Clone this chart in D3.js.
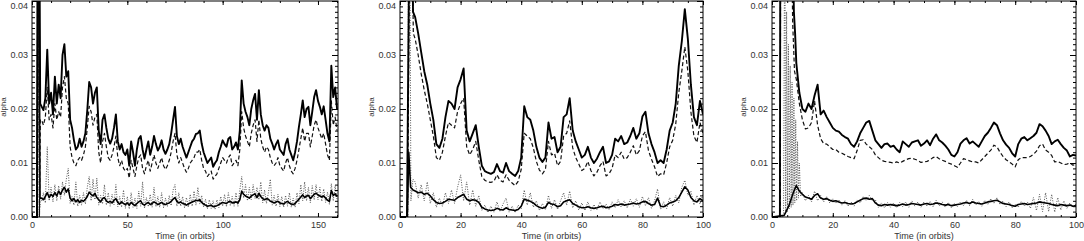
<!DOCTYPE html>
<html>
<head>
<meta charset="utf-8">
<script src="https://cdn.jsdelivr.net/npm/d3@7"></script>
<style>
   body { margin: 0; background: #fff; }
   svg { display: block; }
   text { font-family: "Liberation Sans", Arial, sans-serif; fill: #333; }
</style>
</head>
<body>
<svg id="chart" width="1084" height="241"></svg>
<script>
"use strict";

// alpha values, in units of 1e-3, one value per orbit from the start orbit
// "Rise" arrays hold the [orbit, value] points of the start-up transient

// ---- run 1 (0 - 160 orbits) ----
const p1Start = 5;
const p1SolidRise = [[0, 0], [2.6, 0], [3.0, 60], [3.8, 60], [4.3, 21]];
const p1Solid = [
   20.5, 19.8, 22, 31, 21, 23, 19, 26, 21, 24.5,
   22, 30, 32, 26, 27, 18, 16.5, 14.2, 12.5, 13,
   14.5, 13, 14, 15.5, 19.8, 25, 24, 21, 23, 24,
   16, 13.5, 18, 19, 16.5, 14.5, 13.6, 14.5, 16.5, 19,
   14, 12.5, 13.5, 12, 11.5, 12.5, 9.5, 14, 12, 9.5,
   12.5, 14.5, 15, 12.5, 10.8, 12.5, 14, 11.5, 13, 15,
   13.5, 12.3, 13, 14.2, 12.5, 11.7, 12.5, 13.5, 15.5, 18,
   20.4, 15, 13.5, 14.5, 13, 12, 11, 12, 13, 14,
   14.5, 15.4, 15.5, 16, 13.6, 12, 11, 10, 10.5, 11,
   9.3, 10, 10.5, 12, 13, 14.2, 13.5, 13, 14.5, 14.8,
   12.5, 13, 13.8, 12.5, 16, 25.3, 21, 19.5, 18.5, 17,
   20, 21.6, 22.8, 18, 23.5, 19, 17, 16, 17, 16.5,
   14.5, 13.6, 12.5, 13.5, 14.2, 12.5, 12, 11.5, 13.5, 14.5,
   12.5, 11.5, 10.5, 12, 14, 16.7, 19, 21.6, 18.5, 20,
   20.4, 17, 19.5, 22.2, 23.5, 21.5, 20.4, 19, 20.5, 18,
   15.4, 14, 28, 22.2, 24, 20
];
const p1DashedRise = [[0, 0], [2.8, 0], [3.2, 60], [3.6, 60], [3.9, 0], [4.4, 18]];
const p1Dashed = [
   18, 17, 18.5, 24, 18, 19, 16.5, 21, 18, 19.5,
   18.5, 24, 26, 22, 21, 13, 11, 10, 9.5, 10.5,
   11, 10.5, 11.5, 13, 16.5, 20.5, 19.5, 17, 18.5, 19,
   12, 10, 14, 15.5, 13, 11, 10.5, 11.5, 13, 15,
   11, 9.5, 10.5, 9, 8.5, 9, 7.2, 10.5, 9, 7.5,
   9.5, 11, 11.5, 9, 8, 9.5, 10.5, 8.5, 10, 11.5,
   10, 9, 10, 11, 9.5, 8.8, 9.5, 10.5, 12, 14,
   15.5, 11.5, 10, 11, 10, 9, 8.3, 9, 10, 10.5,
   11, 12, 12, 12.5, 10.5, 9, 8.5, 7.5, 8, 8.5,
   7, 7.5, 8, 9, 10, 11, 10.5, 10, 11, 11.5,
   9.5, 10, 10.5, 9.5, 12.5, 19.5, 16.5, 15, 14, 13,
   15.5, 17, 18, 14, 18, 14.5, 13, 12, 13, 12.5,
   11, 10, 9.5, 10, 11, 9.5, 9, 8.5, 10, 11,
   9.5, 8.5, 8, 9, 10.5, 12.5, 14.5, 16.5, 14, 15.5,
   15.5, 13, 15, 17, 18, 16.5, 15.5, 14.5, 15.5, 13.5,
   11.5, 10.5, 21.5, 17, 18.5, 16
];
const p1LowSolidRise = [[0, 0], [2.7, 0], [3.1, 60], [3.5, 60], [4.2, 3.5]];
const p1LowSolid = [
   3.5, 3.2, 3.8, 4.5, 3.6, 4.2, 3.8, 4.5, 3.9, 4.8,
   4.2, 5, 5.5, 4.6, 5.2, 3.5, 3, 3.4, 2.8, 3.2,
   2.7, 3.1, 2.9, 3.3, 3.8, 4.6, 4.2, 3.9, 4.4, 3.6,
   3.2, 2.8, 3.4, 3.6, 3, 2.7, 2.9, 2.6, 3.1, 3.4,
   2.7, 2.4, 2.8, 2.5, 2.3, 2.6, 2.2, 2.7, 2.4, 2.1,
   2.5, 2.8, 3, 2.4, 2.2, 2.5, 2.7, 2.3, 2.5, 2.8,
   2.6, 2.3, 2.5, 2.7, 2.4, 2.3, 2.5, 2.6, 2.9, 3.3,
   3.6, 2.9, 2.6, 2.8, 2.5, 2.4, 2.2, 2.4, 2.6, 2.8,
   2.9, 3.1, 3, 3.2, 2.7, 2.4, 2.2, 2, 2.1, 2.2,
   1.9, 2, 2.1, 2.3, 2.5, 2.7, 2.6, 2.5, 2.8, 2.9,
   2.6, 2.7, 2.8, 2.6, 3.2, 4.8, 4.2, 3.9, 3.7, 3.5,
   3.9, 4.1, 4.3, 3.6, 4.4, 3.8, 3.4, 3.2, 3.4, 3.3,
   2.9, 2.8, 2.6, 2.8, 2.9, 2.6, 2.5, 2.4, 2.7, 2.9,
   2.6, 2.4, 2.3, 2.5, 2.9, 3.3, 3.7, 4.1, 3.6, 3.9,
   4, 3.4, 3.8, 4.2, 4.4, 4.1, 3.9, 3.7, 3.9, 3.5,
   3.1, 2.9, 4.9, 4, 4.3, 3.8
];
const p1LowDottedRise = [[0, 0], [3.0, 0], [3.4, 50], [3.8, 0.5], [4.4, 2.8]];
const p1LowDotted = [
   2.8, 4.5, 2.6, 13, 3, 5.5, 2.8, 6, 3, 5.8,
   3.3, 6.5, 4, 7, 9, 2.5, 3.8, 2.2, 6.5, 2,
   4, 2.2, 4.5, 2.4, 5.5, 7.5, 3, 7, 3.2, 7.2,
   2.2, 4, 2.4, 6, 2.2, 4.5, 2, 4.2, 2.3, 6,
   1.9, 3.8, 1.8, 5, 1.6, 3.8, 1.5, 4.5, 1.8, 3.5,
   1.6, 4.8, 2, 6.5, 1.6, 3.6, 1.9, 4.2, 1.8, 5.5,
   1.9, 3.8, 1.8, 4.5, 1.7, 3.5, 1.9, 4, 2.1, 5,
   6, 2, 4.5, 2, 3.8, 1.7, 3.6, 1.8, 4.2, 2,
   4.8, 2.2, 5.5, 2.4, 4, 1.8, 3.3, 1.5, 3.2, 1.6,
   3, 1.4, 3.2, 1.7, 3.8, 2, 4.2, 1.9, 4.5, 2.1,
   3.8, 2, 4.5, 2, 5, 7.5, 3.5, 6, 3, 5.5,
   3.2, 6, 3.4, 5.5, 3.2, 6.5, 2.6, 5, 2.5, 4.5,
   7, 2.2, 4, 2, 4.2, 1.9, 3.8, 1.8, 4, 2,
   4.5, 1.8, 3.5, 1.8, 4.5, 2.5, 6, 3, 6.5, 3,
   5.5, 2.6, 5.8, 3.2, 6, 3.2, 5.5, 2.9, 5.2, 2.7,
   4.6, 2.3, 6.2, 3, 5.8, 3.2
];

// ---- run 2 (0 - 100 orbits) ----
const p2Start = 5;
const p2SolidRise = [[0, 0], [2.3, 0], [3.2, 60], [3.8, 60], [4.3, 38]];
const p2Solid = [
   37, 34, 30.5, 27, 24.5, 21, 18, 13.5, 12.8, 14.5,
   18.5, 21.5, 21, 20, 24, 25.5, 27.5, 16, 14, 15.5,
   17, 13, 9.5, 8.5, 8.2, 8, 8.3, 9.8, 8.5, 8.2,
   10, 8.5, 8, 7.6, 8.5, 11, 20.5, 18.5, 18, 16,
   13, 11, 10.2, 11, 17.5, 14.5, 14.8, 12, 13, 18.5,
   19, 22, 16, 14, 12.5, 11, 11.5, 13, 11, 10,
   10.8, 12, 13, 10, 10.3, 11.5, 14.5, 14, 15, 13.5,
   13.8, 15, 16.5, 14.5, 15.5, 18.6, 19.5, 15.5, 13.5, 12,
   10, 10.5, 10, 12.5, 16, 17.5, 21, 28, 32.5, 38.5,
   33, 24.5, 18.5, 17, 21.5, 19
];
const p2DashedRise = [[0, 0], [2.5, 0], [3.3, 60], [3.8, 60], [4.4, 34]];
const p2Dashed = [
   33, 30, 26.5, 23.5, 21, 18, 15, 11, 10.5, 12,
   15, 17.5, 17, 16.5, 19.5, 21, 22, 13, 11.5, 12.5,
   14, 10.5, 7.5, 6.8, 6.5, 6.4, 6.6, 7.8, 6.8, 6.5,
   7.8, 6.8, 6.3, 5.8, 6.6, 8.8, 15.5, 15, 14.5, 12.8,
   10.3, 8.7, 8, 8.8, 14, 11.5, 11.8, 9.5, 10.3, 15,
   15.5, 17.8, 12.8, 11, 9.8, 8.6, 9, 10.3, 8.6, 7.6,
   8.3, 9.5, 10.3, 7.6, 8, 9, 11.5, 11, 12, 10.7,
   11, 12, 13.2, 11.5, 12.3, 15, 15.8, 12.3, 10.7, 9.3,
   7.5, 8, 7.8, 10, 13, 14.2, 17.2, 23, 27, 31.5,
   27, 19.5, 15, 13.8, 17.5, 15.5
];
const p2LowSolidRise = [[0, 0], [2.4, 0], [2.9, 12], [3.5, 5.5], [4.3, 5]];
const p2LowSolid = [
   4.8, 4.5, 4.6, 4.2, 4.4, 3.9, 3.2, 2.7, 2.5, 2.6,
   2.9, 3.3, 3.2, 3.1, 3.6, 3.9, 4.2, 3.3, 3, 3.2,
   3.1, 2.7, 1.8, 1.5, 1.3, 1.2, 1.3, 1.6, 1.4, 1.3,
   1.7, 1.4, 1.3, 1.2, 1.4, 2, 3.3, 3.1, 2.9, 2.6,
   2.1, 1.8, 1.6, 1.8, 2.7, 2.4, 2.3, 1.9, 2.1, 2.8,
   3, 3.2, 2.5, 2.2, 1.9, 1.7, 1.7, 1.9, 1.7, 1.6,
   1.7, 1.9, 2, 1.7, 1.8, 2, 2.3, 2.2, 2.4, 2.2,
   2.3, 2.4, 2.6, 2.4, 2.5, 2.8, 2.9, 2.5, 2.2, 2.3,
   3.5, 2, 1.9, 2.2, 2.6, 2.8, 3, 3.6, 4.6, 5.6,
   5, 3.6, 3, 2.8, 3.4, 3
];
const p2LowDottedRise = [[0, 0], [2.6, 0], [2.8, 60], [3.2, 60], [3.6, 3], [4.3, 7]];
const p2LowDotted = [
   6.5, 3.5, 6, 3, 6.5, 2.5, 4.5, 1.8, 3.5, 2,
   4.5, 2.5, 5, 2.5, 5.5, 7.8, 3, 6.5, 2.2, 5,
   2, 4, 1.2, 2.2, 0.8, 2, 0.9, 2.8, 1, 2.4,
   3.5, 0.9, 2, 0.8, 2.2, 1.5, 5, 2.2, 4.5, 1.8,
   3, 1.2, 2.5, 1.3, 4, 1.6, 3.2, 1.4, 3, 4.5,
   2.2, 4.8, 1.7, 3, 1.3, 2.6, 1.2, 2.8, 1.2, 2.3,
   1.3, 2.8, 1.5, 2.4, 1.3, 2.8, 1.7, 3.2, 1.8, 3,
   1.7, 3.3, 2, 3.4, 1.8, 3.8, 2.1, 3.6, 1.6, 3,
   5.2, 1.4, 2.8, 1.5, 3.6, 2, 4, 2.6, 5.5, 6.8,
   4, 4.8, 2.2, 4, 2.4, 4.2
];

// ---- run 3 (0 - 100 orbits) ----
const p3Start = 8;
const p3SolidRise = [[0, 0], [2.6, 0], [2.75, 60], [6.6, 60], [7.2, 38], [7.6, 34]];
const p3Solid = [
   28.5, 23, 20, 19.5, 21, 20, 22.5, 24.5, 19, 19.7, 18.5,
   17.5, 16.5, 16, 15.8, 15.2, 14.8, 14.5, 13.5, 13, 14,
   15.5, 16.5, 17.5, 17.8, 16, 14.2, 13.5, 12.8, 13.5, 13.6,
   13, 13.2, 12.5, 12, 14, 13.5, 13, 13.8, 14, 14.2,
   13.2, 13.6, 14.2, 13.3, 14.5, 15.3, 14.2, 13.8, 13.2, 12.5,
   11.5, 11.2, 12, 13.6, 14.2, 14.6, 13.6, 14, 13.5, 13,
   14, 15, 15.6, 16.5, 17.5, 17, 15.5, 14.2, 13.4, 12.8,
   11.8, 11.2, 13.5, 14.5, 14.8, 14.2, 14.6, 15, 15.6, 17.2,
   16.8, 16, 15, 13.5, 14, 14.3, 13.5, 12.8, 12.3, 11.2,
   11.5, 11.4
];
const p3DashedRise = [[0, 0], [2.7, 0], [2.85, 60], [6.2, 60], [6.8, 36], [7.4, 27]];
const p3Dashed = [
   25.5, 21, 18, 16.3, 16.5, 17.5, 21.5, 17, 14.5, 13.6, 13.5,
   13, 12.5, 12.5, 12, 11.8, 11.5, 11.2, 11, 10.8, 12.3,
   14.2, 14.3, 13.5, 13, 12.5, 11.5, 11, 10.5, 10.3, 10.2,
   10.1, 10, 10.2, 10, 10.3, 10.6, 10.8, 10.9, 10.7, 10.5,
   10.1, 10.2, 10.3, 10.6, 11, 11.2, 10.8, 10.5, 10.3, 10,
   9.8, 9.5, 9.2, 10, 10.8, 10.6, 10.4, 10.2, 10.2, 10,
   10.6, 11.2, 11.8, 12.4, 13.3, 13, 12, 11.2, 10.6, 10.2,
   9.8, 9.3, 10.6, 11, 11, 11, 11.2, 11.6, 12.2, 13.2,
   13.5, 12.4, 12, 11.4, 10.2, 10.3, 10, 9.7, 9.8, 10,
   9.6, 9.7
];
const p3LowSolidRise = [[0, 0], [4, 0.3], [5.5, 2], [7, 4.5]];
const p3LowSolid = [
   5.8, 4.8, 4.2, 3.7, 3.5, 3.3, 4, 4.3, 3.5, 3.3, 3.4,
   3.1, 2.9, 3, 2.8, 2.6, 2.7, 2.5, 2.4, 2.5, 2.8,
   3.1, 3.4, 3.5, 3.3, 3.4, 2.6, 2.2, 2.1, 2.3, 2.2,
   2.3, 2.2, 2.1, 2.2, 2.4, 2.2, 2.3, 2.5, 2.4, 2.3,
   2.2, 2.4, 2.5, 2.3, 2.4, 2.6, 2.5, 2.3, 2.2, 2.3,
   2.1, 2.2, 2.3, 2.4, 2.6, 2.7, 2.5, 2.8, 2.6, 2.5,
   2.4, 2.6, 2.8, 2.9, 3, 3.1, 2.8, 2.5, 2.4, 2.3,
   2.1, 2, 2.3, 2.4, 2.5, 2.3, 2.4, 2.5, 2.6, 2.8,
   2.7, 2.6, 2.5, 2.3, 2.2, 2.1, 2.3, 2.2, 2.1, 2.2,
   2, 2.1
];
const p3DottedStart = 10;
const p3LowDottedRise = [
   [0, 0], [3.8, 0], [4.2, 60], [4.5, 0.8], [4.8, 38], [5.1, 1], [5.4, 32],
   [5.7, 1.5], [6.0, 28], [6.3, 1.8], [6.6, 25], [6.9, 2.2], [7.2, 22], [7.5, 2.6],
   [7.8, 18], [8.1, 3], [8.4, 14], [8.7, 3.5], [9.0, 10], [9.4, 3.8]
];
const p3LowDotted = [
   4.5, 3, 4, 2.8, 4.8, 3, 4, 2.8, 3.8, 2.6, 3.4,
   2.5, 3.2, 2.2, 3, 2, 2.8, 2, 3.2, 2.6, 3.8,
   3, 4, 3, 3.2, 1.8, 2.6, 1.7, 2.7, 1.8, 2.6,
   1.7, 2.7, 1.9, 2.8, 1.8, 3, 2, 2.8, 1.8, 2.8,
   2, 2.9, 1.9, 3.1, 2, 2.8, 1.8, 2.7, 1.7, 2.5,
   1.9, 2.8, 2.1, 3.1, 2.1, 3.3, 2.2, 2.9, 2, 3.1,
   2.3, 3.4, 2.5, 3.6, 2.3, 3, 1.9, 2.8, 1.7, 2.4,
   1.8, 2.9, 2, 2.8, 1.6, 3.6, 1.2, 4.2, 1, 4.5,
   1, 4.2, 0.9, 3.6, 1.3, 3, 1.6, 2.6, 1.8, 2.4
];

const yTicks = [0, 0.01, 0.02, 0.03, 0.04];
const p1XTicks = [0, 50, 100, 150];
const p23XTicks = [0, 20, 40, 60, 80, 100];
const yTitle = "alpha";
const xTitle = "Time (in orbits)";

function toPoints(rise, t0, vals) {
   return rise.concat(vals.map((v, i) => [t0 + i, v]))
      .map(d => [d[0], d[1] * 1e-3]);
}

const panels = [
   { left: 32, right: 338, xMax: 160.5, xTicks: p1XTicks, minorStep: 10,
     lines: [
        toPoints(p1LowDottedRise, p1Start, p1LowDotted),
        toPoints(p1LowSolidRise, p1Start, p1LowSolid),
        toPoints(p1DashedRise, p1Start, p1Dashed),
        toPoints(p1SolidRise, p1Start, p1Solid)] },
   { left: 400, right: 703, xMax: 100, xTicks: p23XTicks, minorStep: 5,
     lines: [
        toPoints(p2LowDottedRise, p2Start, p2LowDotted),
        toPoints(p2LowSolidRise, p2Start, p2LowSolid),
        toPoints(p2DashedRise, p2Start, p2Dashed),
        toPoints(p2SolidRise, p2Start, p2Solid)] },
   { left: 772, right: 1076, xMax: 100, xTicks: p23XTicks, minorStep: 5,
     lines: [
        toPoints(p3LowDottedRise, p3DottedStart, p3LowDotted),
        toPoints(p3LowSolidRise, p3Start, p3LowSolid),
        toPoints(p3DashedRise, p3Start, p3Dashed),
        toPoints(p3SolidRise, p3Start, p3Solid)] }
];

const lineStyles = [
   { width: 1, dash: "1,1.5", color: "#555" },
   { width: 1.6, dash: null, color: "#000" },
   { width: 1.2, dash: "4,2.5", color: "#111" },
   { width: 1.9, dash: null, color: "#000" }
];

const plotTop = 1, plotBottom = 217;
const svg = d3.select("#chart");

panels.forEach((p, k) => {
   const x = d3.scaleLinear().domain([0, p.xMax]).range([p.left, p.right]);
   const y = d3.scaleLinear().domain([0, 0.04]).range([plotBottom, plotTop]);
   const g = svg.append("g");

   g.append("clipPath").attr("id", "clip" + k)
      .append("rect")
      .attr("x", p.left).attr("y", plotTop)
      .attr("width", p.right - p.left).attr("height", plotBottom - plotTop);

   const line = d3.line().x(d => x(d[0])).y(d => y(d[1]));
   const plot = g.append("g").attr("clip-path", `url(#clip${k})`);
   p.lines.forEach((pts, i) => {
      const s = lineStyles[i];
      plot.append("path")
         .attr("d", line(pts))
         .attr("fill", "none")
         .attr("stroke", s.color)
         .attr("stroke-width", s.width)
         .attr("stroke-linejoin", "round")
         .attr("stroke-dasharray", s.dash);
   });

   // minor ticks
   const yMinor = d3.range(0, 0.0405, 0.001);
   const xMinor = d3.range(0, p.xMax + 0.01, p.minorStep);
   g.append("g").attr("transform", `translate(${p.left},0)`)
      .call(d3.axisLeft(y).tickValues(yMinor).tickSize(-3).tickFormat(""));
   g.append("g").attr("transform", `translate(${p.right},0)`)
      .call(d3.axisRight(y).tickValues(yMinor).tickSize(-3).tickFormat(""));
   g.append("g").attr("transform", `translate(0,${plotBottom})`)
      .call(d3.axisBottom(x).tickValues(xMinor).tickSize(-2).tickFormat(""));
   g.append("g").attr("transform", `translate(0,${plotTop})`)
      .call(d3.axisTop(x).tickValues(xMinor).tickSize(-2).tickFormat(""));

   // major ticks with labels
   const yAxis = g.append("g").attr("transform", `translate(${p.left},0)`)
      .call(d3.axisLeft(y).tickValues(yTicks).tickSize(-6).tickPadding(4).tickFormat(d3.format(".2f")));
   g.append("g").attr("transform", `translate(${p.right},0)`)
      .call(d3.axisRight(y).tickValues(yTicks).tickSize(-6).tickFormat(""));
   g.append("g").attr("transform", `translate(0,${plotBottom})`)
      .call(d3.axisBottom(x).tickValues(p.xTicks).tickSize(-4).tickPadding(5).tickFormat(d3.format("d")));
   g.append("g").attr("transform", `translate(0,${plotTop})`)
      .call(d3.axisTop(x).tickValues(p.xTicks).tickSize(-4).tickFormat(""));

   g.selectAll(".domain").remove();
   g.selectAll(".tick line").attr("stroke", "#000");
   g.selectAll(".tick text").attr("font-size", 9).attr("fill", "#333")
      .attr("font-family", "'Liberation Sans', Arial, sans-serif");
   // the top label sits on the window edge: nudge it inside
   yAxis.selectAll(".tick text").filter(d => d === 0.04).attr("dy", "0.8em");

   // frame
   g.append("rect")
      .attr("x", p.left).attr("y", plotTop)
      .attr("width", p.right - p.left).attr("height", plotBottom - plotTop)
      .attr("fill", "none").attr("stroke", "#000").attr("stroke-width", 1);

   g.append("text")
      .attr("transform", `translate(${p.left - 26},107) rotate(-90)`)
      .attr("text-anchor", "middle")
      .attr("font-size", 8)
      .text(yTitle);

   g.append("text")
      .attr("x", (p.left + p.right) / 2)
      .attr("y", 239)
      .attr("text-anchor", "middle")
      .attr("font-size", 9)
      .text(xTitle);
});
</script>
</body>
</html>
